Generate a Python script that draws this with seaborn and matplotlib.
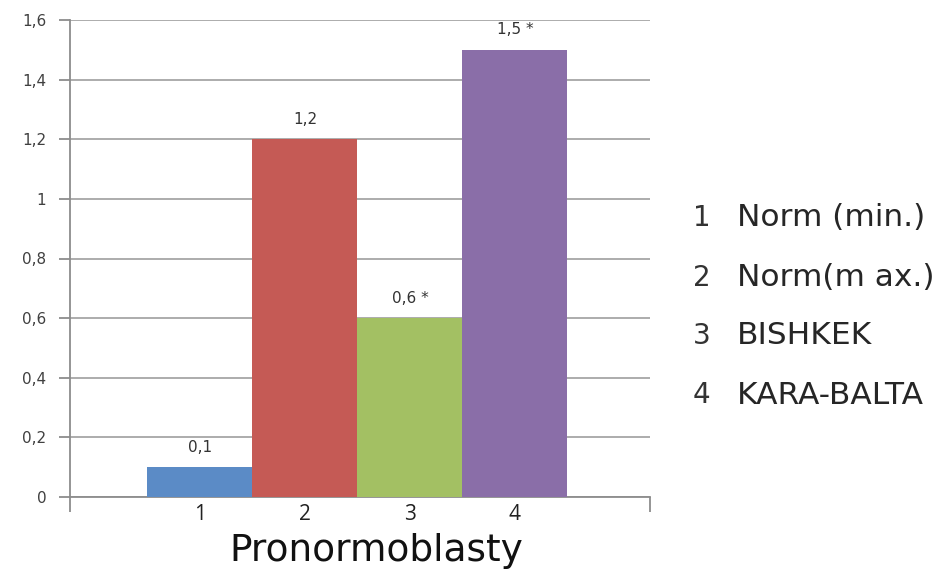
import matplotlib
matplotlib.use("Agg")
import matplotlib.pyplot as plt
import seaborn as sns
import pandas as pd

# Data
groups = ["1", "2", "3", "4"]
values = [0.1, 1.2, 0.6, 1.5]
value_labels = ["0,1", "1,2", "0,6 *", "1,5 *"]
legend_names = ["Norm (min.)", "Norm(m ax.)", "BISHKEK", "KARA-BALTA"]
colors = ["#5b8bc6", "#c55a55", "#a3c063", "#8a6ea8"]
y_ticks = [0, 0.2, 0.4, 0.6, 0.8, 1.0, 1.2, 1.4, 1.6]
y_tick_labels = ["0", "0,2", "0,4", "0,6", "0,8", "1", "1,2", "1,4", "1,6"]
x_title = "Pronormoblasty"

sns.set_style("white")
plt.rcParams["font.family"] = ["DejaVu Sans"]

df = pd.DataFrame({"group": groups, "value": values})

W, H = 949, 578
fig = plt.figure(figsize=(W / 100, H / 100), dpi=100)
ax = fig.add_axes([70 / W, 1 - 497 / H, 580 / W, 477 / H])

sns.barplot(data=df, x="group", y="value", hue="group", palette=colors,
            width=1.0, saturation=1, legend=False, ax=ax, zorder=3,
            edgecolor="none", linewidth=0)

ax.set_xlim(-1.238, 4.286)
ax.set_ylim(0, 1.6)

# Horizontal gridlines
ax.set_yticks(y_ticks)
ax.set_yticklabels(y_tick_labels, fontsize=11, color="#404040")
ax.yaxis.grid(True, color="#a6a6a6", linewidth=1.3, zorder=0)
ax.set_axisbelow(True)

# Category numbers under bars; boundary tick marks at the axis ends
ax.set_xticks(range(len(groups)))
ax.set_xticklabels(groups, fontsize=15, color="#222222", family="Open Sans")
ax.tick_params(axis="x", which="major", length=0, pad=5)
ax.set_xticks([-1.238, 4.286], minor=True)
ax.tick_params(axis="x", which="minor", length=11, width=1.3, color="#8c8c8c",
               direction="out", bottom=True)
ax.tick_params(axis="y", which="major", length=8, width=1.3, color="#8c8c8c",
               direction="out", left=True, pad=9)

for side in ["top", "right"]:
    ax.spines[side].set_visible(False)
for side in ["left", "bottom"]:
    ax.spines[side].set_color("#8c8c8c")
    ax.spines[side].set_linewidth(1.3)

# Value labels above bars
for patch, lab in zip(ax.patches, value_labels):
    ax.annotate(lab, (patch.get_x() + patch.get_width() / 2, patch.get_height()),
                xytext=(0, 9), textcoords="offset points", ha="center",
                va="bottom", fontsize=11, color="#333333")

ax.set_xlabel("")
ax.set_ylabel("")
fig.text(376 / W, 1 - 561 / H, x_title, fontsize=27, color="#111111",
         ha="center", va="baseline")

# Legend-like captions on the right
ys = [218, 278, 336, 395]
for y, num, name in zip(ys, groups, legend_names):
    fig.text(693 / W, 1 - y / H, num, fontsize=20, color="#333333",
             va="center", ha="left")
    fig.text(737 / W, 1 - y / H, name, fontsize=22.5, color="#262626",
             va="center", ha="left")

fig.savefig("out.png", dpi=100, facecolor="white")
